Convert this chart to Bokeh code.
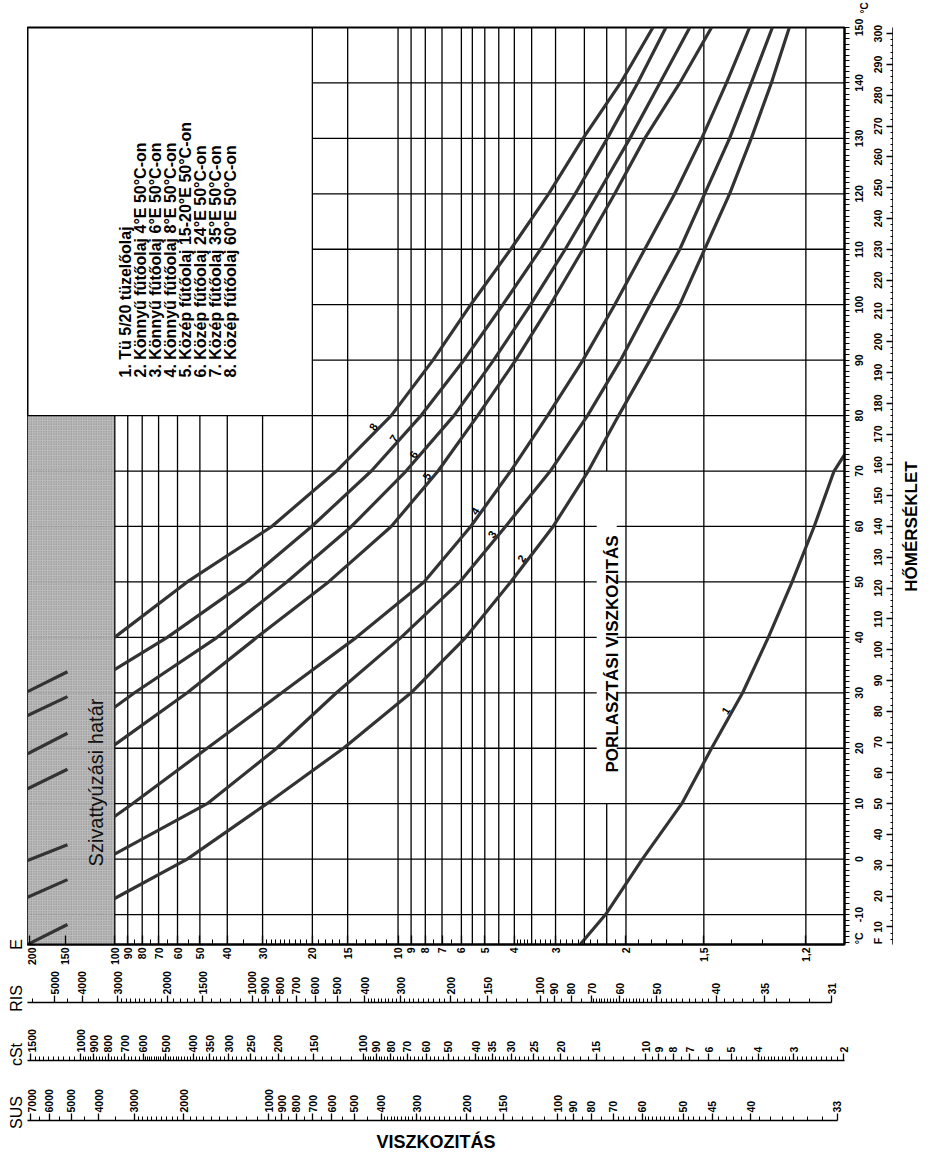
import math
import numpy as np
from bokeh.plotting import figure
from bokeh.models import Range1d, LinearAxis, FixedTicker
from bokeh.layouts import column, row
from bokeh.embed import file_html
from bokeh.resources import INLINE
from bokeh.core.properties import value

FONT = "Liberation Sans"
INK = "#000000"
CURVE_INK = "#333333"

# ---------------- curves: temperature (°C) / kinematic viscosity (cSt) ----------------
c1_temp = [-15.4, -10, 0, 10, 20, 30, 40, 50, 60, 70, 73]
c1_cst = [17.1, 13.9, 10.3, 7.47, 5.86, 4.55, 3.69, 3.04, 2.54, 2.16, 1.98]

c2_temp = [-15.4, -11.8, -7.1, 0, 10, 20, 30, 40, 50, 60, 70, 80, 90, 100, 110, 120, 130, 140, 150]
c2_cst = [1543, 1114, 759, 420, 219.5, 117.6, 67.8, 43.4, 30.1, 21.3, 16.0, 12.5, 9.68, 7.59, 6.20, 5.06, 4.24, 3.60, 3.11]

c3_temp = [-6.9, -3.7, 0.9, 10, 20, 30, 40, 50, 60, 70, 80, 90, 100, 110, 120, 130, 140, 150]
c3_cst = [1543, 1114, 759, 357, 202.5, 124.5, 73.5, 45.6, 31.4, 21.8, 16.1, 12.3, 9.68, 7.59, 6.20, 5.06, 4.24, 3.57]

c4_temp = [-0.25, 2.6, 7.7, 10, 20, 30, 40, 50, 60, 70, 80, 90, 100, 110, 120, 130, 140, 150]
c4_cst = [1543, 1114, 759, 656, 357, 194.4, 105.8, 61.0, 41.7, 30.1, 22.3, 16.7, 12.9, 10.1, 7.91, 6.35, 5.19, 4.30]

c5_temp = [12.7, 16.2, 20.6, 30, 40, 50, 60, 70, 80, 90, 100, 110, 120, 130, 140, 150]
c5_cst = [1543, 1114, 759, 420, 238, 132.8, 79.7, 54.4, 39.4, 28.9, 21.8, 16.7, 12.9, 10.1, 7.59, 5.86]

c6_temp = [19.0, 22.7, 27.4, 30, 40, 50, 60, 70, 80, 90, 100, 110, 120, 130, 140, 150]
c6_cst = [1543, 1114, 759, 645, 329, 186.7, 110.2, 70.6, 47.8, 34.6, 25.6, 19.3, 14.8, 11.4, 8.93, 7.00]

c7_temp = [25.9, 29.3, 34.2, 40, 50, 60, 70, 80, 90, 100, 110, 120, 130, 140, 150]
c7_cst = [1543, 1114, 759, 494, 260, 152.4, 93.7, 62.5, 44.1, 32.1, 23.6, 17.8, 13.7, 10.7, 8.50]

c8_temp = [30.2, 33.8, 40.0, 50, 60, 70, 80, 90, 100, 110, 120, 130, 140, 150]
c8_cst = [1543, 1114, 759, 420, 210.9, 124.5, 79.7, 56.7, 41.7, 30.1, 22.1, 16.7, 12.3, 9.45]

curve_numbers = ["1", "2", "3", "4", "5", "6", "7", "8"]
curve_label_temp = [26.8, 54.2, 58.6, 62.8, 69.1, 73.0, 75.9, 78.0]

legend_items = [
    "1. Tü 5/20 tüzelőolaj",
    "2. Könnyű fűtőolaj 4°E 50°C-on",
    "3. Könnyű fűtőolaj 6°E 50°C-on",
    "4. Könnyű fűtőolaj 8°E 50°C-on",
    "5. Közép fűtőolaj 15-20°E 50°C-on",
    "6. Közép fűtőolaj 24°E 50°C-on",
    "7. Közép fűtőolaj 35°E 50°C-on",
    "8. Közép fűtőolaj 60°E 50°C-on",
]

scale_names = ["E", "RIS", "cSt", "SUS"]

# ---------------- unit conversion tables (cSt <-> other viscosity units) ----------------
conv_e_cst = [2.0, 3.0, 4.0, 5.0, 6.0, 7.0, 8.0, 9.0, 10.0, 12.0, 15.0, 20.0, 25.0, 30.0, 40.0, 50.0, 60.0, 70.0, 80.0, 100.0, 2000.0]
conv_e = [1.14, 1.22, 1.31, 1.40, 1.48, 1.56, 1.65, 1.75, 1.84, 2.02, 2.32, 2.90, 3.45, 4.10, 5.35, 6.65, 7.95, 9.30, 10.60, 13.20, 264.0]
conv_ris_cst = [2.0, 3.0, 4.0, 5.0, 6.0, 8.0, 10.0, 15.0, 20.0, 30.0, 40.0, 50.0, 70.0, 100.0, 2000.0]
conv_ris = [30.5, 32.7, 35.5, 38.2, 41.0, 46.6, 52.3, 68.0, 85.6, 125.0, 165.0, 204.0, 285.0, 405.0, 8100.0]
conv_sus_cst = [2.0, 3.0, 4.0, 5.0, 6.0, 7.0, 8.0, 9.0, 10.0, 12.0, 15.0, 20.0, 25.0, 30.0, 40.0, 50.0, 60.0, 70.0, 80.0, 100.0, 2000.0]
conv_sus = [32.6, 36.0, 39.1, 42.3, 45.5, 48.7, 52.0, 55.4, 58.8, 65.9, 77.4, 97.8, 119.3, 141.3, 186.3, 232.1, 278.3, 324.4, 370.8, 463.6, 9270.0]

# ---------------- scale tick values ----------------
e_ticks = [200, 150, 100, 90, 80, 70, 60, 50, 40, 30, 20, 15, 10, 9, 8, 7, 6, 5, 4, 3, 2, 1.5, 1.2]
e_labels = ["200", "150", "100", "90", "80", "70", "60", "50", "40", "30", "20", "15", "10", "9", "8", "7", "6", "5", "4", "3", "2", "1,5", "1,2"]
e_grid_low = [100, 90, 80, 70, 60, 50, 40, 30]
e_grid_full = [20, 15, 10, 9, 8, 7, 6, 5.5, 5, 4.5, 4, 3.5, 3, 2.5, 2, 1.5, 1.2]
e_spray = 2.2

ris_ticks = [5000, 4000, 3000, 2000, 1500, 1000, 900, 800, 700, 600, 500, 400, 300, 200, 150, 100, 90, 80, 70, 60, 50, 40, 35, 31]
cst_ticks = [1500, 1000, 900, 800, 700, 600, 500, 400, 350, 300, 250, 200, 150, 100, 90, 80, 70, 60, 50, 40, 35, 30, 25, 20, 15, 10, 9, 8, 7, 6, 5, 4, 3, 2]
sus_ticks = [7000, 6000, 5000, 4000, 3000, 2000, 1000, 900, 800, 700, 600, 500, 400, 300, 200, 150, 100, 90, 80, 70, 60, 50, 45, 40, 33]

temp_c_ticks = list(range(-10, 151, 10))
temp_f_ticks = list(range(10, 301, 10))
temp_grid_low = list(range(-10, 71, 10))
temp_grid_high = list(range(90, 141, 10))


def steps(a, b, s):
    n = int(round((b - a) / s))
    return [round(a + i * s, 4) for i in range(n + 1)]


e_minor = ([85, 75, 65, 55, 45, 35] + steps(21, 29, 1) + steps(16, 19, 1) + steps(11, 14, 1)
           + [7.5, 6.5, 5.5, 4.5] + steps(3.1, 3.9, 0.1) + steps(2.1, 2.9, 0.1) + steps(1.6, 1.9, 0.1) + [1.3, 1.4])
ris_minor = ([6000, 4500, 3500] + steps(2100, 2900, 100) + steps(1600, 1900, 100) + steps(1100, 1400, 100)
             + [950, 850, 750, 650, 550, 450] + steps(310, 390, 10) + steps(210, 290, 10) + steps(160, 190, 10)
             + steps(110, 140, 10) + [95, 85, 75] + steps(61, 69, 1) + steps(51, 59, 1) + steps(41, 49, 1)
             + steps(36, 39, 1) + steps(32, 34, 1))
cst_minor = (steps(1050, 1450, 50) + steps(920, 980, 20) + steps(820, 880, 20) + steps(720, 780, 20) + steps(620, 680, 20)
             + steps(510, 590, 10) + steps(410, 490, 10) + steps(360, 390, 10) + steps(310, 340, 10) + steps(260, 290, 10)
             + steps(210, 240, 10) + steps(160, 190, 10) + steps(110, 140, 10) + steps(92, 98, 2) + steps(82, 88, 2)
             + steps(72, 78, 2) + steps(62, 68, 2) + steps(52, 58, 2) + steps(42, 48, 2) + steps(36, 39, 1)
             + steps(31, 34, 1) + steps(26, 29, 1) + steps(21, 24, 1) + steps(16, 19, 1) + steps(11, 14, 1)
             + [9.5, 8.5, 7.5, 6.5, 5.5] + steps(4.2, 4.8, 0.2) + steps(3.1, 3.9, 0.1) + steps(2.1, 2.9, 0.1))
sus_minor = ([6500, 5500, 4500, 3500] + steps(2100, 2900, 100) + steps(1100, 1900, 100) + [950, 850, 750, 650, 550, 450]
             + steps(310, 390, 10) + steps(210, 290, 10) + steps(160, 190, 10) + steps(110, 140, 10) + [95, 85, 75]
             + steps(62, 68, 2) + steps(51, 59, 1) + steps(46, 49, 1) + steps(41, 44, 1) + steps(34, 39, 1))
temp_c_fine = list(range(-15, 151))
temp_f_minor = [t for t in range(6, 302, 2) if t % 10]


def sig(v):
    return float(f"{v:.9g}")


def to_cst(vals, unit_table, cst_table):
    lu, lc = np.log10(unit_table), np.log10(cst_table)
    return [sig(10 ** np.interp(math.log10(v), lu, lc)) for v in vals]


def cst_e(vals):
    return to_cst(vals, conv_e, conv_e_cst)


# ---------------- geometry (page pixels) ----------------
X_LEFT, X_RIGHT = 1543.0, 1.984
T_MIN, T_MAX = -15.4, 150.0
FW, FH = 817, 917
LEFT_W, TOP_H = 27, 15
MAIN_TB, MAIN_RB, MAIN_BB = 12, 48, 22
SIDE_W = 29
SCALE_TOP = 32
SCALE_FRAMES = [24, 26, 32]
PX_DEC = FW / math.log10(X_LEFT / X_RIGHT)
PX_DEG = FH / (T_MAX - T_MIN)
TICK_FS = 10.5
X0, Y0 = 8 + LEFT_W, 8 + TOP_H + MAIN_TB       # chart frame top-left on the page
FRAME_R, FRAME_B = X0 + FW, Y0 + FH
MAIN_H = MAIN_TB + FH + MAIN_BB
PAGE_W = LEFT_W + FW + MAIN_RB + SIDE_W
PAGE_H = TOP_H + MAIN_H + sum(SCALE_TOP + h for h in SCALE_FRAMES)
ROT_SHIFT = 6   # rotated captions sit a few pixels left of their anchor; push them back


def xd(px):  # page pixel -> cSt (annotation placement only)
    return X_LEFT / 10 ** ((px - X0) / PX_DEC)


def yd(py):
    return T_MAX - (py - Y0) / PX_DEG


def half_len_deg(s):
    # rotated labels of a right-hand axis start at their tick; shift by half their length to centre them
    w = sum(0.333 if ch == "-" else 0.556 for ch in s) * TICK_FS
    return (w / 2) / PX_DEG


def blank_fig(xrng, yrng, w, h):
    f = figure(x_range=Range1d(*xrng), y_range=Range1d(*yrng), frame_width=w, frame_height=h, min_border=0,
               x_axis_location=None, y_axis_location=None, output_backend="svg", toolbar_location=None,
               background_fill_color="white", border_fill_color="white")
    f.grid.visible = False
    f.outline_line_color = None
    return f


def style_axis(ax, fs="10.5px"):
    ax.major_label_text_font = FONT
    ax.major_label_text_font_style = "bold"
    ax.major_label_text_font_size = fs
    ax.major_label_text_color = INK
    ax.axis_line_color = INK
    ax.major_tick_line_color = INK
    ax.minor_tick_line_color = INK
    ax.major_tick_line_width = 1.3
    ax.minor_tick_line_width = 1


xr = Range1d(X_LEFT, X_RIGHT)
yr = Range1d(T_MIN, T_MAX)

p = figure(x_range=xr, y_range=yr, x_axis_type="log", x_axis_location="below", y_axis_location="right",
           frame_width=FW, frame_height=FH, min_border_left=0, min_border_right=MAIN_RB,
           min_border_top=MAIN_TB, min_border_bottom=MAIN_BB, output_backend="svg", toolbar_location=None,
           background_fill_color="white", border_fill_color="white")
p.grid.visible = False
p.outline_line_color = INK
p.outline_line_width = 2

e100 = cst_e([100])[0]
e20 = cst_e([20])[0]
e22 = cst_e([e_spray])[0]

# pumping-limit zone
p.quad(left=[X_LEFT], right=[e100], bottom=[T_MIN], top=[80], fill_color="#bdbdbd",
       hatch_pattern="dot", hatch_color="#7d7d7d", hatch_scale=2.5, hatch_weight=1, line_color=None)
p.segment(x0=[X_LEFT] * len(temp_grid_low), x1=[e100] * len(temp_grid_low), y0=temp_grid_low, y1=temp_grid_low,
          line_color="#888888", line_width=1, line_dash="1 2")

# grid
GW = 1.3
p.segment(x0=[e100] * len(temp_grid_low), x1=[X_RIGHT] * len(temp_grid_low), y0=temp_grid_low, y1=temp_grid_low,
          line_color=INK, line_width=GW)
p.segment(x0=[X_LEFT], x1=[X_RIGHT], y0=[80], y1=[80], line_color=INK, line_width=GW)
p.segment(x0=[e20] * len(temp_grid_high), x1=[X_RIGHT] * len(temp_grid_high), y0=temp_grid_high, y1=temp_grid_high,
          line_color=INK, line_width=GW)
low_x = cst_e(e_grid_low)
p.segment(x0=low_x, x1=low_x, y0=[T_MIN] * len(low_x), y1=[80] * len(low_x), line_color=INK, line_width=GW)
full_x = cst_e(e_grid_full)
p.segment(x0=full_x, x1=full_x, y0=[T_MIN] * len(full_x), y1=[T_MAX] * len(full_x), line_color=INK, line_width=GW)
p.segment(x0=[e22, e22], x1=[e22, e22], y0=[T_MIN, 70], y1=[10, T_MAX], line_color=INK, line_width=GW)

# gap for the atomising-viscosity caption
gap = 10 ** (10 / PX_DEC)
p.quad(left=[e22 * gap], right=[e22 / gap], bottom=[10.3], top=[69.7], fill_color="white", line_color=None)
p.text(x=[e22], y=[37], text=["PORLASZTÁSI VISZKOZITÁS"], angle=math.pi / 2, x_offset=ROT_SHIFT,
       text_align="center", text_baseline="middle", text_font=value(FONT), text_font_style="bold",
       text_font_size="17px", text_color=INK)
p.text(x=[xd(96)], y=[yd(790)], text=["Szivattyúzási határ"], angle=math.pi / 2, x_offset=ROT_SHIFT + 1,
       text_align="center", text_baseline="middle", text_font=value(FONT), text_font_size="20px",
       text_color="#111111")

# curves
curves = [(c1_temp, c1_cst), (c2_temp, c2_cst), (c3_temp, c3_cst), (c4_temp, c4_cst),
          (c5_temp, c5_cst), (c6_temp, c6_cst), (c7_temp, c7_cst), (c8_temp, c8_cst)]
lab_x, lab_y = [], []
for (ts, vs), lt in zip(curves, curve_label_temp):
    main = [(t, v) for t, v in zip(ts, vs) if v < 800]
    stub = [(t, v) for t, v in zip(ts, vs) if v > 1000]
    p.line(x=[v for t, v in main], y=[t for t, v in main], line_color=CURVE_INK, line_width=3.2)
    if stub:
        p.line(x=[v for t, v in stub], y=[t for t, v in stub], line_color=CURVE_INK, line_width=3.2)
    mt = [t for t, v in main]
    mv = [math.log10(v) for t, v in main]
    lab_x.append(10 ** np.interp(lt, mt, mv))
    lab_y.append(lt)
p.text(x=lab_x, y=lab_y, text=curve_numbers, x_offset=-7, angle=1.0, text_align="center", text_baseline="middle",
       text_font=value(FONT), text_font_style="bold", text_font_size="11px", text_color=INK)

# legend
p.text(x=[xd(127 + 15 * i) for i in range(len(legend_items))], y=[yd(385)] * len(legend_items), text=legend_items,
       angle=math.pi / 2, x_offset=ROT_SHIFT, text_align="left", text_baseline="middle", text_font=value(FONT),
       text_font_style="bold", text_font_size="16px", text_color=INK)

# Engler axis (bottom of the chart)
e_tick_cst = cst_e(e_ticks)
ax_e = p.below[0]
ax_e.ticker = FixedTicker(ticks=e_tick_cst, minor_ticks=cst_e(e_minor))
ax_e.major_label_overrides = dict(zip(e_tick_cst, e_labels))
style_axis(ax_e)
ax_e.major_tick_in, ax_e.major_tick_out = 9, 0
ax_e.minor_tick_in, ax_e.minor_tick_out = 5, 0
ax_e.major_label_orientation = math.pi / 2
ax_e.major_label_standoff = 3
ax_e.axis_line_width = 2

# ---- temperature scales (right) ----
ax_c = p.right[0]                      # °C ruler on the chart edge
ax_c.ticker = FixedTicker(ticks=[], minor_ticks=temp_c_fine)
style_axis(ax_c)
ax_c.major_tick_out = 0
ax_c.minor_tick_in, ax_c.minor_tick_out = 0, 5
ax_c.axis_line_width = 2

c_pos = [sig(t - half_len_deg(str(t))) for t in temp_c_ticks] + [sig(T_MIN + 0.05)]
c_txt = [str(t) for t in temp_c_ticks] + ["°C"]
ax_cl = LinearAxis(ticker=FixedTicker(ticks=c_pos))
style_axis(ax_cl)
ax_cl.major_label_overrides = dict(zip(c_pos, c_txt))
ax_cl.axis_line_color = None
ax_cl.major_tick_line_color = None
ax_cl.major_tick_out = 0
ax_cl.minor_tick_out = 0
ax_cl.major_label_orientation = math.pi / 2
ax_cl.major_label_standoff = 10
p.add_layout(ax_cl, "right")

p.extra_y_ranges = {"f": Range1d(T_MIN * 1.8 + 32, T_MAX * 1.8 + 32)}
f_pos = [sig(f - half_len_deg(str(f)) * 1.8) for f in temp_f_ticks] + [sig(T_MIN * 1.8 + 32 + 0.1)]
f_txt = [str(f) for f in temp_f_ticks] + ["F"]
ax_fl = LinearAxis(y_range_name="f", ticker=FixedTicker(ticks=f_pos))
style_axis(ax_fl)
ax_fl.major_label_overrides = dict(zip(f_pos, f_txt))
ax_fl.axis_line_color = None
ax_fl.major_tick_line_color = None
ax_fl.major_tick_out = 0
ax_fl.minor_tick_out = 0
ax_fl.major_label_orientation = math.pi / 2
ax_fl.major_label_standoff = 4
p.add_layout(ax_fl, "right")

ax_f2 = LinearAxis(y_range_name="f", ticker=FixedTicker(ticks=[], minor_ticks=temp_f_minor))
style_axis(ax_f2)
ax_f2.major_tick_out = 0
ax_f2.minor_tick_in, ax_f2.minor_tick_out = 3, 0
ax_f2.axis_line_width = 2
p.add_layout(ax_f2, "right")
ax_f10 = LinearAxis(y_range_name="f", ticker=FixedTicker(ticks=[], minor_ticks=temp_f_ticks))
style_axis(ax_f10)
ax_f10.major_tick_out = 0
ax_f10.minor_tick_in, ax_f10.minor_tick_out = 7, 0
ax_f10.minor_tick_line_width = 1.3
ax_f10.axis_line_width = 2
p.add_layout(ax_f10, "right")

# ---- side strips carrying the free-standing captions ----
top = blank_fig((X0, 8 + PAGE_W), (8 + TOP_H, 8), PAGE_W - LEFT_W, TOP_H)
top.text(x=[FRAME_R + 16], y=[8 + TOP_H / 2], text=["°C"], angle=math.pi / 2, x_offset=4, text_align="center",
         text_baseline="middle", text_font=value(FONT), text_font_style="bold", text_font_size="10px",
         text_color=INK)

side_x0 = FRAME_R + MAIN_RB
right = blank_fig((side_x0, side_x0 + SIDE_W), (8 + TOP_H + MAIN_H, 8 + TOP_H), SIDE_W, MAIN_H)
right.text(x=[915], y=[522], text=["HŐMÉRSÉKLET"], angle=math.pi / 2, x_offset=3,
           text_align="center", text_baseline="middle", text_font=value(FONT),
           text_font_style="bold", text_font_size="17px", text_color=INK)

scale_lines = [FRAME_B]
yy = FRAME_B + MAIN_BB
for h in SCALE_FRAMES:
    scale_lines.append(yy + SCALE_TOP)
    yy += SCALE_TOP + h
left = blank_fig((8, X0), (8 + PAGE_H, 8), LEFT_W, PAGE_H)
left.text(x=[24] * 4, y=scale_lines, text=scale_names, angle=math.pi / 2, text_align="center",
          text_baseline="middle", text_font=value(FONT), text_font_size="16px", text_color=INK)


def scale_fig(tick_cst, labels, minor, frame_h, end_value):
    f = figure(x_range=xr, y_range=Range1d(0, 1), x_axis_type="log", x_axis_location="above",
               y_axis_location=None, frame_width=FW, frame_height=frame_h, min_border_left=0,
               min_border_right=MAIN_RB + SIDE_W, min_border_top=SCALE_TOP, min_border_bottom=0,
               output_backend="svg", toolbar_location=None, background_fill_color="white",
               border_fill_color="white")
    f.grid.visible = False
    f.outline_line_color = None
    ax = f.above[0]
    ax.ticker = FixedTicker(ticks=tick_cst, minor_ticks=minor)
    ax.major_label_overrides = dict(zip(tick_cst, labels))
    style_axis(ax)
    ax.major_tick_in, ax.major_tick_out = 0, 7
    ax.minor_tick_in, ax.minor_tick_out = 0, 4
    ax.major_label_orientation = math.pi / 2
    ax.major_label_standoff = 1
    ax.axis_line_width = 1.5
    ax.bounds = (X_LEFT, end_value)
    return f


ris_cst = to_cst(ris_ticks, conv_ris, conv_ris_cst)
f_ris = scale_fig(ris_cst, [str(v) for v in ris_ticks], to_cst(ris_minor, conv_ris, conv_ris_cst),
                  SCALE_FRAMES[0], ris_cst[-1])
cst_vals = [sig(v) for v in cst_ticks]
f_cst = scale_fig(cst_vals, [str(v) for v in cst_ticks], [sig(v) for v in cst_minor], SCALE_FRAMES[1], X_RIGHT)
sus_cst = to_cst(sus_ticks, conv_sus, conv_sus_cst)
f_sus = scale_fig(sus_cst, [str(v) for v in sus_ticks], to_cst(sus_minor, conv_sus, conv_sus_cst),
                  SCALE_FRAMES[2], sus_cst[-1])
f_sus.text(x=[math.sqrt(X_LEFT * X_RIGHT)], y=[0.34], text=["VISZKOZITÁS"], text_align="center",
           text_baseline="middle", text_font=value(FONT), text_font_size="18px", text_font_style="bold",
           text_color=INK)

layout = row(left, column(top, row(p, right), f_ris, f_cst, f_sus))
open("out.html", "w").write(file_html(layout, INLINE))
